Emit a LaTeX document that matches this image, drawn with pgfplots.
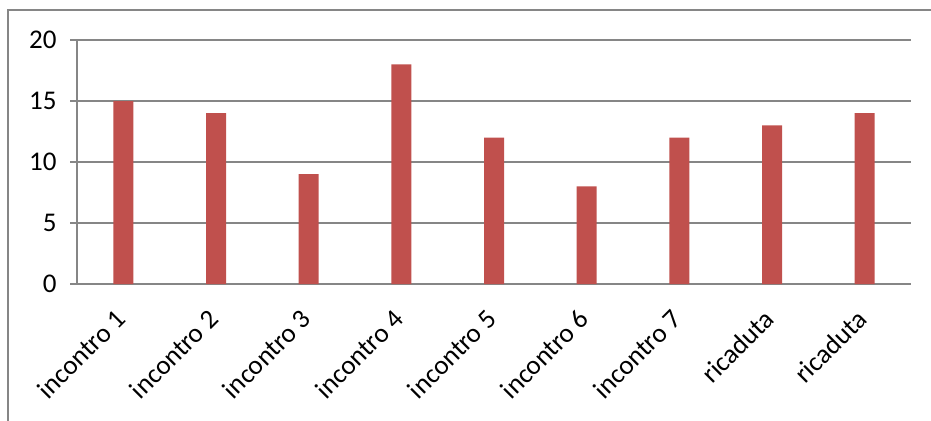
\documentclass[border=0pt]{standalone}
\usepackage{fontspec}
\setmainfont{Carlito}
\usepackage{pgfplots}
\pgfplotsset{compat=1.18}
\definecolor{barred}{HTML}{C0504D}
\definecolor{linegray}{HTML}{868686}
\begin{document}
\begin{tikzpicture}[x=1bp,y=1bp]
\path[use as bounding box] (0,0) rectangle (931,420);
\clip (0,0) rectangle (931,420);
% chart frame
\draw[linegray, line width=1.3bp] (8,-20) rectangle (960,410);
\begin{axis}[
  at={(77bp,136bp)}, anchor=south west,
  scale only axis, width=834bp, height=244bp,
  xmin=0.5, xmax=9.5, ymin=0, ymax=20,
  ytick={0,5,10,15,20},
  ymajorgrids, grid style={linegray, line width=1.2bp},
  axis x line=bottom, axis y line=left,
  axis line style={-, linegray, line width=1.2bp},
  tick style={linegray, line width=1.2bp},
  tick align=outside, major tick length=7bp,
  /pgf/number format/assume math mode=true,
  tick label style={font=\fontsize{27bp}{30bp}\selectfont, text=black},
  yticklabel style={xshift=-10bp},
  xtick={1,...,9},
  xticklabels={incontro 1,incontro 2,incontro 3,incontro 4,incontro 5,incontro 6,incontro 7,ricaduta,ricaduta},
  xticklabel style={xshift=0bp, yshift=-21bp, rotate=45, anchor=east},
  x tick style={draw=none},
  extra x ticks={0.5,1.5,2.5,3.5,4.5,5.5,6.5,7.5,8.5,9.5},
  extra x tick labels={},
  extra x tick style={tick style={draw=linegray, line width=1.2bp}, major tick length=8bp},
  ybar, bar width=20bp,
]
\addplot[fill=barred, draw=none, bar shift=0pt] coordinates {
  (1,15) (2,14) (3,9) (4,18) (5,12) (6,8) (7,12) (8,13) (9,14)
};
\end{axis}
\end{tikzpicture}
\end{document}
